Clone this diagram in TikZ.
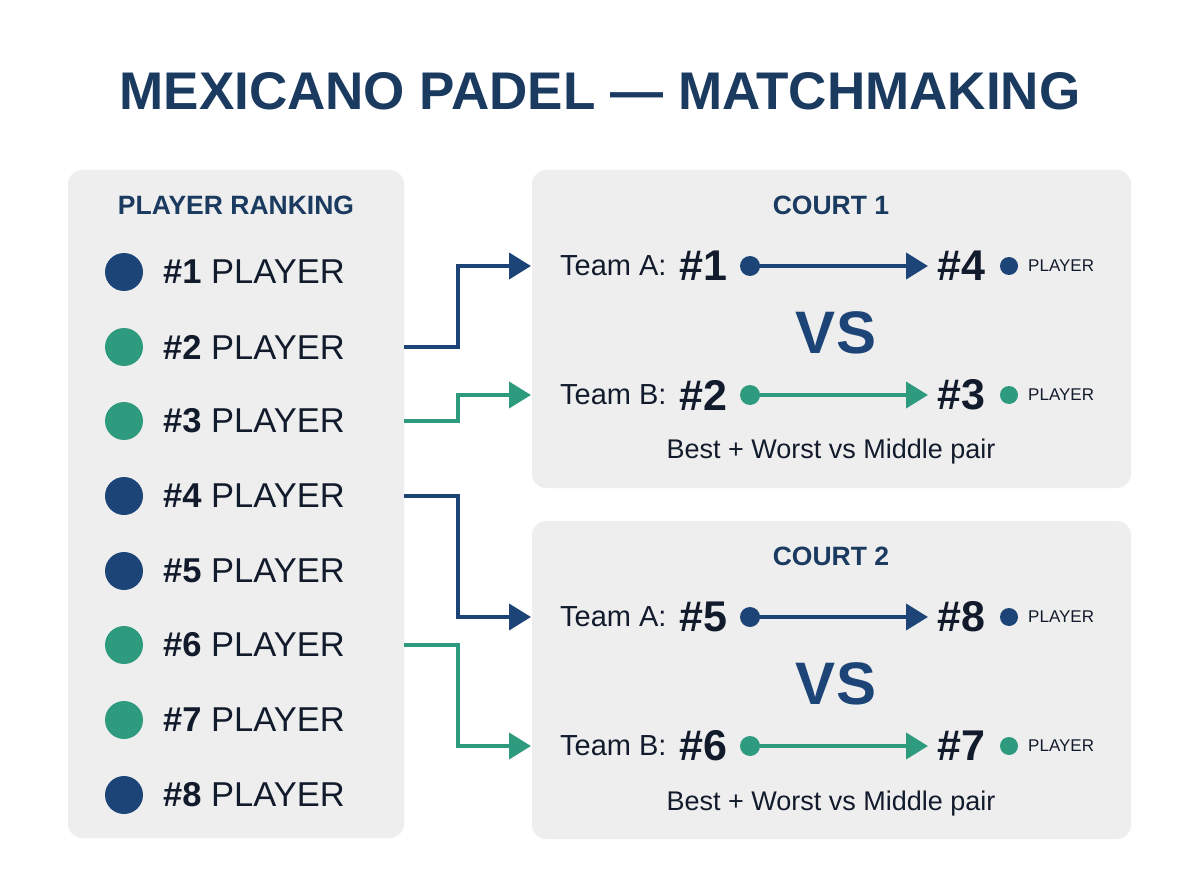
\documentclass[tikz,border=0pt]{standalone}
\usepackage{fontspec}
\setmainfont{Liberation Sans}
\usetikzlibrary{arrows.meta}
\definecolor{navy}{HTML}{1D4477}
\definecolor{teal}{HTML}{2E9A7E}
\definecolor{ink}{HTML}{121B2B}
\definecolor{titlec}{HTML}{1A3A60}
\definecolor{panel}{HTML}{EEEEEF}
\begin{document}
\begin{tikzpicture}[x=1pt,y=-1pt,
  panelbox/.style={fill=panel,rounded corners=14pt,draw=none},
  dotbig/.style={circle,minimum size=38pt,inner sep=0pt},
  dotmid/.style={circle,minimum size=20pt,inner sep=0pt},
  dotsmall/.style={circle,minimum size=18pt,inner sep=0pt},
  rowtext/.style={anchor=west,inner sep=0pt,text=ink,font=\fontsize{34.5}{38}\selectfont},
  headtext/.style={inner sep=0pt,text=titlec,font=\fontsize{26.5}{30}\selectfont\bfseries},
  teamtext/.style={anchor=west,inner sep=0pt,text=ink,font=\fontsize{29}{34}\selectfont},
  numtext/.style={anchor=west,inner sep=0pt,text=ink,font=\fontsize{43}{48}\selectfont\bfseries},
  smalltext/.style={anchor=west,inner sep=0pt,text=ink,font=\fontsize{17}{20}\selectfont},
  vstext/.style={inner sep=0pt,text=navy,font=\fontsize{60}{66}\selectfont\bfseries},
  captext/.style={inner sep=0pt,text=ink,font=\fontsize{27}{31}\selectfont},
  conn/.style={line width=4pt,-{Triangle[length=22pt,width=26pt]}},
]
\useasboundingbox (0,0) rectangle (1200,896);
\fill[white] (0,0) rectangle (1200,896);
% title
\node[inner sep=0pt,text=titlec,font=\fontsize{53}{60}\selectfont\bfseries] (title) at (600,91) {MEXICANO PADEL — MATCHMAKING};
% panels
\path[panelbox] (68,170) rectangle (404,838);
\path[panelbox] (532,170) rectangle (1131,488);
\path[panelbox] (532,521) rectangle (1131,839);
\node[headtext] (rankhead) at (236,205) {PLAYER RANKING};
% rows
\foreach \i/\c/\y in {1/navy/272,2/teal/347,3/teal/421,4/navy/496,5/navy/571,6/teal/645,7/teal/720,8/navy/795}{
  \node[dotbig,fill=\c] (d\i) at (124,\y) {};
  \node[rowtext] (r\i) at (163,\y) {\textbf{\#\i} PLAYER};
  \coordinate (o\i) at (404,\y);
}
% courts
\node[headtext] (c1head) at (831,205) {COURT 1};
\node[headtext] (c2head) at (831,556) {COURT 2};
\foreach \k/\ya/\yb/\yv/\yc/\pa/\pb/\pc/\pd in {1/266/395/333/452/1/4/2/3,2/617/746/684/804/5/8/6/7}{
  \node[teamtext] (ta\k) at (560,\ya) {Team A:};
  \node[numtext] (na\k) at (679,\ya) {\#\pa};
  \node[dotmid,fill=navy] (sa\k) at (750,\ya) {};
  \node[numtext] (ma\k) at (937,\ya) {\#\pb};
  \node[dotsmall,fill=navy] (pa\k) at (1009,\ya) {};
  \node[smalltext] (la\k) at (1028,\ya) {PLAYER};
  \coordinate (ea\k) at (928,\ya);
  \draw[conn,navy] (sa\k.center) -- (ea\k);
  \node[teamtext] (tb\k) at (560,\yb) {Team B:};
  \node[numtext] (nb\k) at (679,\yb) {\#\pc};
  \node[dotmid,fill=teal] (sb\k) at (750,\yb) {};
  \node[numtext] (mb\k) at (937,\yb) {\#\pd};
  \node[dotsmall,fill=teal] (pb\k) at (1009,\yb) {};
  \node[smalltext] (lb\k) at (1028,\yb) {PLAYER};
  \coordinate (eb\k) at (928,\yb);
  \draw[conn,teal] (sb\k.center) -- (eb\k);
  \node[vstext] (vs\k) at (836,\yv) {VS};
  \node[captext] (cap\k) at (831,\yc) {Best + Worst vs Middle pair};
  \coordinate (ina\k) at (531,\ya);
  \coordinate (inb\k) at (531,\yb);
}
% connectors
\draw[conn,navy] (o2) -| (458,266) -- (ina1);
\draw[conn,teal] (o3) -| (458,395) -- (inb1);
\draw[conn,navy] (o4) -| (458,617) -- (ina2);
\draw[conn,teal] (o6) -| (458,746) -- (inb2);
\end{tikzpicture}
\end{document}
